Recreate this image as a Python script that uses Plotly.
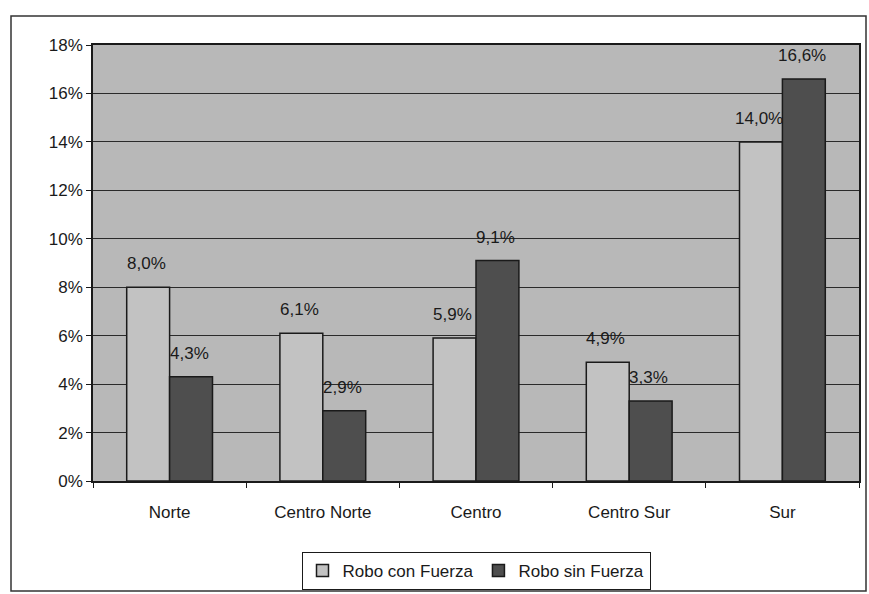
import plotly.graph_objects as go

regiones = ["Norte", "Centro Norte", "Centro", "Centro Sur", "Sur"]
con_fuerza = [8.0, 6.1, 5.9, 4.9, 14.0]
sin_fuerza = [4.3, 2.9, 9.1, 3.3, 16.6]
y_ticks = [0, 2, 4, 6, 8, 10, 12, 14, 16, 18]


def etiqueta(v):
    return f"{v:.1f}%".replace(".", ",")


W, H = 869, 594
ml, mr, mt, mb = 93, 10, 45, 113
fuente = dict(family="Liberation Sans, Arial, sans-serif", size=17, color="#1a1a1a")

fig = go.Figure()
fig.add_trace(go.Bar(
    name="Robo con Fuerza", x=regiones, y=con_fuerza,
    marker=dict(color="#c2c2c2", line=dict(color="#1a1a1a", width=1.5)),
))
fig.add_trace(go.Bar(
    name="Robo sin Fuerza", x=regiones, y=sin_fuerza,
    marker=dict(color="#4e4e4e", line=dict(color="#1a1a1a", width=1.5)),
))

pw = W - ml - mr
ph = H - mt - mb
bargap = 0.44
half_bar = pw / len(regiones) * (1 - bargap) / 4  # half of one bar's width, px


def px_x(p):
    return (p - ml) / pw


def px_y(p):
    return (H - mb - p) / ph


# value labels above each bar
anotaciones = []
for serie, dx in ((con_fuerza, -half_bar - 2), (sin_fuerza, half_bar - 2)):
    for reg, v in zip(regiones, serie):
        anotaciones.append(dict(
            x=reg, y=v, xref="x", yref="y", text=etiqueta(v),
            showarrow=False, xshift=dx, yshift=12, yanchor="bottom",
            font=fuente,
        ))

fig.update_layout(
    width=W, height=H,
    margin=dict(l=ml, r=mr, t=mt, b=mb, autoexpand=False),
    paper_bgcolor="white",
    plot_bgcolor="#b8b8b8",
    barmode="group",
    bargap=bargap,
    bargroupgap=0,
    font=fuente,
    showlegend=True,
    annotations=anotaciones,
    legend=dict(
        orientation="h", x=0.5, xanchor="center",
        y=px_y(552), yanchor="top",
        bordercolor="#1a1a1a", borderwidth=1, bgcolor="white",
        font=dict(family="Liberation Sans, Arial, sans-serif", size=17, color="#1a1a1a"),
        itemwidth=30, tracegroupgap=0,
    ),
    xaxis=dict(
        showline=True, linecolor="#1a1a1a", linewidth=1.5, mirror=True,
        ticks="outside", tickson="boundaries", ticklen=5, tickcolor="#1a1a1a",
        tickfont=fuente, automargin=False, ticklabelstandoff=15,
    ),
    yaxis=dict(
        range=[0, 18], tickvals=y_ticks,
        ticktext=[f"{t}%" for t in y_ticks],
        showgrid=True, gridcolor="#2a2a2a", gridwidth=1,
        showline=True, linecolor="#1a1a1a", linewidth=1.5, mirror=True,
        ticks="outside", ticklen=5, tickcolor="#1a1a1a",
        tickfont=fuente, zeroline=False, automargin=False,
    ),
    shapes=[dict(
        type="rect", xref="paper", yref="paper",
        x0=px_x(11), x1=px_x(866), y0=px_y(591), y1=px_y(16),
        line=dict(color="#333333", width=1.5), layer="below",
    )],
)

fig.write_html("out.html")
